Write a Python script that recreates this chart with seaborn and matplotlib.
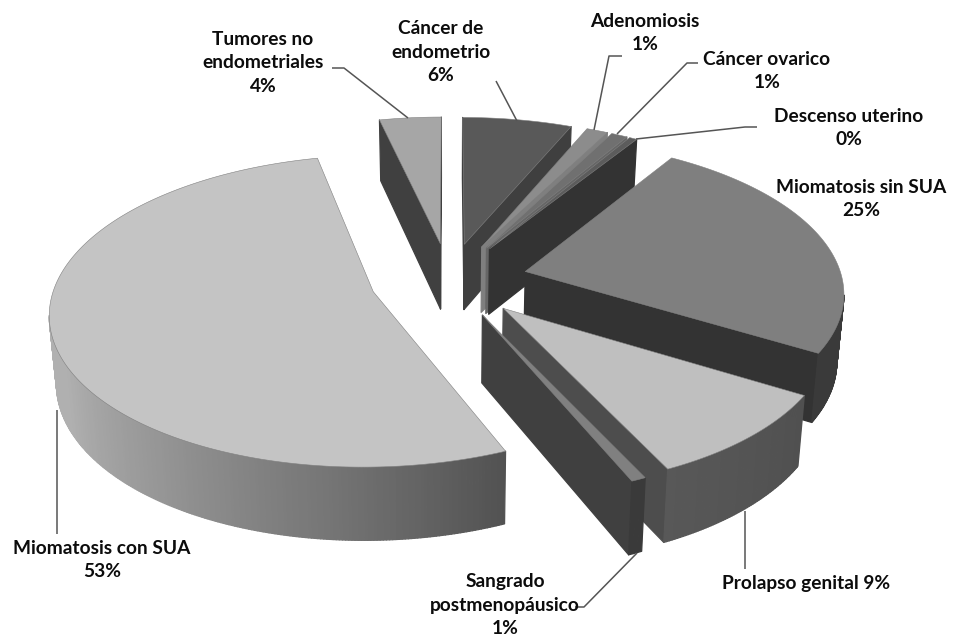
import numpy as np
import matplotlib
matplotlib.use("Agg")
import matplotlib.pyplot as plt
from matplotlib.patches import Polygon
import seaborn as sns

# Share of each diagnosis, clockwise from twelve o'clock
categories = ["Cáncer de\nendometrio", "Adenomiosis", "Cáncer ovarico", "Descenso uterino",
              "Miomatosis sin SUA", "Prolapso genital", "Sangrado\npostmenopáusico",
              "Miomatosis con SUA", "Tumores no\nendometriales"]
shares = [6.39, 1.25, 0.95, 0.45, 24.6, 9.3, 0.65, 52.85, 3.6]

# Grey levels: top surface, cut faces, and rim shading along the arc
top_colors = ["#595959", "#8c8c8c", "#707070", "#5c5c5c", "#7f7f7f",
              "#bfbfbf", "#808080", "#c4c4c4", "#a6a6a6"]
face_colors = ["#3f3f3f", "#7f7f7f", "#666666", "#333333", "#333333",
               "#4d4d4d", "#404040", "#444444", "#404040"]
rim_colors = [["#3f3f3f"], ["#555555"], ["#555555"], ["#333333"], ["#3a3a3a"],
              ["#505050", "#585858"], ["#3a3a3a"],
              ["#525252", "#767676", "#959595", "#b0b0b0", "#b0b0b0"], ["#555555"]]
draw_order = [8, 0, 1, 2, 3, 4, 5, 6, 7]

sns.set_theme(style="white")
plt.rcParams["font.family"] = ["Lato", "DejaVu Sans"]

fig = plt.figure(figsize=(9.54, 6.4), dpi=100, facecolor="white")
ax = fig.add_axes([0, 0, 1, 1])
ax.set_xlim(0, 954)
ax.set_ylim(640, 0)
ax.axis("off")

# Perspective camera for the tilted pie
ORIGIN = (449.0, 280.0)
SCALE_X, SCALE_Y, TILT = 322.0, 153.0, 0.125
DEPTH, EXPLODE, RADIUS = 66.5, 0.245, 0.985


def project(px, py, z=0.0):
    den = 1.0 - TILT * py
    x = SCALE_X * px / den * (1.0 - 0.018 * z)
    y = SCALE_Y * py / den + z * DEPTH * (1.0 + 0.66 * (1.0 / den - 1.0))
    return ORIGIN[0] + x, ORIGIN[1] + y


def direction(deg):
    rad = np.radians(deg)
    return np.sin(rad), -np.cos(rad)


def add_poly(points, color, edge=None, lw=0.9):
    ax.add_patch(Polygon(points, closed=True, facecolor=color,
                         edgecolor=edge if edge else color, linewidth=lw, joinstyle="round"))


def side(p0, p1, color):
    """Extruded wall below one top edge, shown only if it faces the camera."""
    a, b = project(*p0), project(*p1)
    if b[0] < a[0]:
        add_poly([a, b, project(*p1, 1.0), project(*p0, 1.0)], color)


edges = np.cumsum([0.0] + shares) * 360.0 / np.sum(shares)
for i in draw_order:
    t1, t2 = edges[i], edges[i + 1]
    mid = np.radians((t1 + t2) / 2)
    apex = np.array([EXPLODE * np.sin(mid), -EXPLODE * np.cos(mid)])
    thetas = np.linspace(t1, t2, max(4, int((t2 - t1) * 2)))
    rim = [apex + RADIUS * np.array(direction(t)) for t in thetas]

    side(apex, rim[0], face_colors[i])
    side(rim[-1], apex, face_colors[i])

    # Rim shading runs along the arc, over the first part of the sweep
    stops = rim_colors[i]
    shades = sns.blend_palette(stops if len(stops) > 1 else stops * 2, 256)
    span = min(t2 - t1, 115.0) if len(stops) > 2 else (t2 - t1)
    for j in range(len(rim) - 1):
        frac = np.clip((thetas[j] - t1) / span, 0, 1)
        side(rim[j], rim[j + 1], shades[int(frac * 255)])

    top = [project(*apex)] + [project(*p) for p in rim]
    add_poly(top, top_colors[i], edge="#808080", lw=0.4)

# Leader lines from the labels to the slices
leaders = [
    [(496, 81), (517, 121)],
    [(622, 56), (609, 56), (594, 130)],
    [(698, 63), (687, 63), (617, 134)],
    [(757, 127), (745, 127), (636, 139)],
    [(745, 511), (745, 569)],
    [(637, 553), (584, 607), (575, 607)],
    [(57, 410), (57, 534)],
    [(332, 68), (344, 68), (408, 118)],
]
for path in leaders:
    xs, ys = zip(*path)
    ax.plot(xs, ys, color="#555555", lw=1.1, solid_capstyle="butt")

# Category labels with their percentages
label_pos = [(441, 52), (645, 33), (767, 71), (849, 128), (861, 199),
             (806, 583), (505, 605), (102, 560), (263, 63)]
for i, (name, value, (x, y)) in enumerate(zip(categories, shares, label_pos)):
    sep = " " if name.startswith("Prolapso") else "\n"
    ax.text(x, y, f"{name}{sep}{value:.0f}%", ha="center", va="center", ma="center",
            fontsize=13.8, fontweight="bold", color="#0c0c0c", linespacing=1.47)

fig.savefig("out.png", dpi=100, facecolor="white")
